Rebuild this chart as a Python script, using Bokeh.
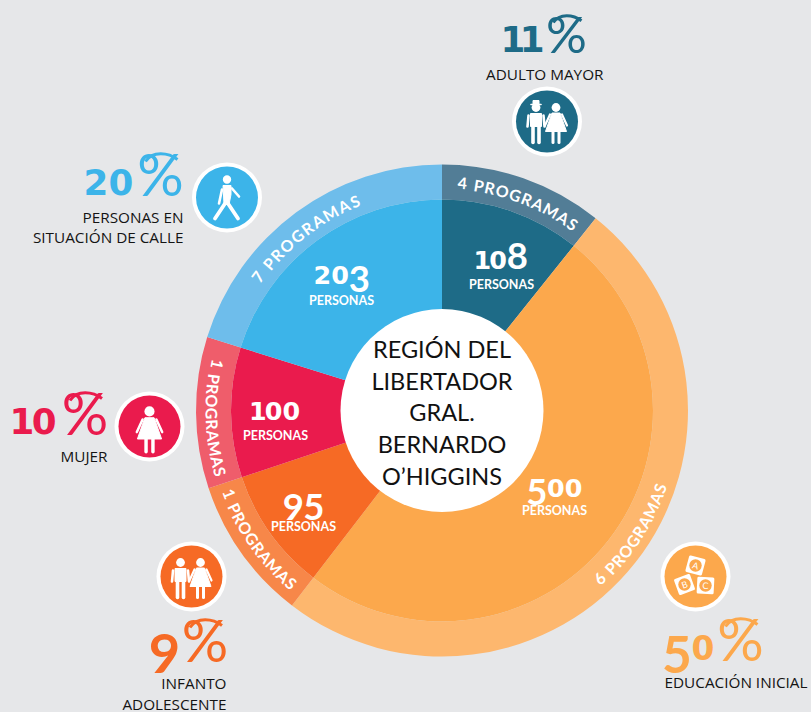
import numpy as np
from bokeh.plotting import figure
from bokeh.models import ColumnDataSource
from bokeh.core.properties import value
from bokeh.embed import file_html
from bokeh.resources import INLINE

W, H = 811, 712
BG = "#e6e7e9"
INK = "#141414"

# ---- data, clockwise from the top
categories = ["ADULTO MAYOR", "EDUCACIÓN INICIAL", "INFANTO ADOLESCENTE", "MUJER", "PERSONAS EN SITUACIÓN DE CALLE"]
personas = [108, 500, 95, 100, 203]
programas = [4, 6, 1, 1, 7]
percents = [11, 50, 9, 10, 20]
inner_colors = ["#1e6b87", "#fca84c", "#f66a25", "#ea1b4d", "#3cb4e9"]
outer_colors = ["#527d96", "#fdb76e", "#f78749", "#ef5d6b", "#6ebdeb"]
center_lines = ["REGIÓN DEL", "LIBERTADOR", "GRAL.", "BERNARDO", "O’HIGGINS"]

CX, CY = 441.5, 410
R_HOLE, R_IN, R_OUT = 101.5, 211, 246


def Y(y):
    return H - y


p = figure(width=W, height=H, x_range=(0, W), y_range=(0, H), toolbar_location=None,
           output_backend="svg", min_border=0, outline_line_color=None,
           background_fill_color=BG, border_fill_color=BG)
p.axis.visible = False
p.grid.visible = False

vals = np.array(personas, dtype=float)
cum = np.concatenate([[0], np.cumsum(vals)]) / vals.sum() * 2 * np.pi
src = ColumnDataSource(dict(
    start=np.pi / 2 - cum[:-1], end=np.pi / 2 - cum[1:],
    inner=inner_colors, outer=outer_colors,
    x=[CX] * 5, y=[Y(CY)] * 5))
p.annular_wedge("x", "y", inner_radius=R_IN, outer_radius=R_OUT, start_angle="start", end_angle="end",
                direction="clock", fill_color="outer", line_color=None, source=src)
p.annular_wedge("x", "y", inner_radius=R_HOLE - 2, outer_radius=R_IN, start_angle="start", end_angle="end",
                direction="clock", fill_color="inner", line_color=None, source=src)
p.circle([CX], [Y(CY)], radius=R_HOLE, fill_color="white", line_color=None)


def txt(s, x, y, size, color="white", font="Lato", style="normal", align="center", angle=0.0, baseline="middle"):
    p.text([x], [Y(y)], text=[s], text_font=value(font), text_font_size=f"{size}px", text_font_style=style,
           text_color=color, text_align=align, text_baseline=baseline, angle=angle)


def oldstyle(s, x, base, xh, color="white", tall=None):
    """Old-style figures: 0 1 2 at x-height, 6 8 ascend, 3 4 5 7 9 descend."""
    tall = tall or xh * 1.42
    sizes = []
    for c in s:
        if c in "012":
            f = xh / 0.729
            sizes.append((f, f * (0.54 if c == "1" else 0.70), base - xh / 2, "DejaVu Sans"))
        elif c in "68":
            f = tall / 0.72
            sizes.append((f, f * 0.56, base - tall / 2, "Lato"))
        else:
            f = tall / 0.72
            sizes.append((f, f * 0.56, base - xh + tall / 2, "Lato"))
    total = sum(a[1] for a in sizes)
    left = x - total / 2
    for c, (f, adv, yc, font) in zip(s, sizes):
        txt(c, left + adv / 2, yc, round(f, 1), color=color, font=font, style="bold")
        left += adv


# centre text
for line, y in zip(center_lines, [348, 380, 411, 443, 475]):
    txt(line, CX, y, 23.5, color="#111111", font="Lato")

# values inside the wedges: centre x, digit baseline, caption y
val_pos = [(501, 269, 284), (554, 497, 510), (303, 512, 526), (275, 420, 435), (341, 284, 300)]
for v, (x, y1, y2) in zip(personas, val_pos):
    oldstyle(str(v), x, y1, 18.5)
    txt("PERSONAS", x, y2, 12.5, style="bold")

# curved ring labels: (start angle, end angle, radius), degrees clockwise from top
ADV = {" ": .32, "P": .6, "R": .63, "O": .78, "G": .72, "A": .7, "M": .88, "S": .55}
ring_pos = [(3.8, 36.3, 228), (138, 108.5, 231), (249.8, 220, 229), (282.8, 253.5, 230), (-55.4, -21.3, 227)]
for n, (a0, a1, r) in zip(programas, ring_pos):
    s = f"{n} PROGRAMAS"
    w = np.array([ADV.get(c, .58) for c in s])
    mid = (np.cumsum(w) - w / 2) / w.sum()
    for c, m in zip(s, mid):
        if c == " ":
            continue
        th = np.radians(a0 + (a1 - a0) * m)
        x = CX + r * np.sin(th)
        y = CY - r * np.cos(th)
        ang = -th if a1 > a0 else np.pi - th
        txt(c, x, y, 16, style="bold", angle=float(ang))


# icons
def limb(xs, ys, width, color="white"):
    p.line(xs, [Y(v) for v in ys], line_color=color, line_width=width, line_cap="round", line_join="round")


def poly(xs, ys, color="white"):
    p.patch(xs, [Y(v) for v in ys], fill_color=color, line_color=color, line_width=1, line_join="round")


def disc(x, y, r, color):
    p.circle([x], [Y(y)], radius=r, fill_color=color, line_color=None)


def man(cx, cy, s=1.0, hat=False):
    disc(cx, cy - 14 * s, 4.4 * s, "white")
    if hat:
        limb([cx - 5 * s, cx + 5 * s], [cy - 17 * s, cy - 17 * s], 1.6)
        poly([cx - 3 * s, cx + 3 * s, cx + 3 * s, cx - 3 * s], [cy - 21 * s, cy - 21 * s, cy - 17 * s, cy - 17 * s])
    poly([cx - 5.5 * s, cx + 5.5 * s, cx + 5.5 * s, cx - 5.5 * s], [cy - 8 * s, cy - 8 * s, cy + 5 * s, cy + 5 * s])
    limb([cx - 7.5 * s, cx - 8.5 * s], [cy - 6 * s, cy + 5 * s], 2.6 * s)
    limb([cx + 7.5 * s, cx + 8.5 * s], [cy - 6 * s, cy + 5 * s], 2.6 * s)
    limb([cx - 3 * s, cx - 3 * s], [cy + 4 * s, cy + 21 * s], 3.6 * s)
    limb([cx + 3 * s, cx + 3 * s], [cy + 4 * s, cy + 21 * s], 3.6 * s)


def woman(cx, cy, s=1.0):
    disc(cx, cy - 14 * s, 4.4 * s, "white")
    poly([cx - 4 * s, cx + 4 * s, cx + 6 * s, cx + 10.5 * s, cx - 10.5 * s, cx - 6 * s],
         [cy - 8.5 * s, cy - 8.5 * s, cy - 3 * s, cy + 10 * s, cy + 10 * s, cy - 3 * s])
    limb([cx - 6 * s, cx - 11 * s], [cy - 7 * s, cy + 4 * s], 2.2 * s)
    limb([cx + 6 * s, cx + 11 * s], [cy - 7 * s, cy + 4 * s], 2.2 * s)
    limb([cx - 3 * s, cx - 3 * s], [cy + 9 * s, cy + 21 * s], 3 * s)
    limb([cx + 3 * s, cx + 3 * s], [cy + 9 * s, cy + 21 * s], 3 * s)


badges = [(546.5, 121), (695, 576), (191, 576), (149, 426), (226.5, 197)]
for (x, y), c in zip(badges, inner_colors):
    disc(x, y, 35, "white")
    disc(x, y, 31, c)

bx, by = badges[0]
man(bx - 11, by, hat=True)
woman(bx + 9, by)

bx, by = badges[2]
man(bx - 11, by)
woman(bx + 9, by)

bx, by = badges[3]
woman(bx, by + 1, s=1.15)

bx, by = badges[4]
disc(bx, by - 18, 4.2, "white")
poly([bx - 4, bx + 4, bx + 4, bx + 2, bx - 3], [by - 12, by - 12, by - 3, by + 7, by + 7])
limb([bx + 5, bx + 12], [by - 9, by - 1], 2.6)
limb([bx - 5, bx - 8], [by - 8, by + 6], 2.6)
limb([bx - 2, bx - 12], [by + 6, by + 21], 3.8)
limb([bx + 1, bx + 11], [by + 6, by + 21], 3.8)

bx, by = badges[1]
for ch, dx, dy, rot in [("A", 0, -11, -15), ("B", -11, 8, 20), ("C", 10, 9, -3)]:
    p.rect([bx + dx], [Y(by + dy)], width=14, height=14, angle=np.radians(rot), fill_color="white",
           line_color="white", line_width=3, line_join="round")
    disc(bx + dx, by + dy, 6.2, inner_colors[1])
    txt(ch, bx + dx, by + dy, 9, angle=float(np.radians(rot)))

# big percentages: digits centre x, digit baseline, x-height, tall height, % centre x, % baseline, % size
pct_pos = [(522, 51, 26, 37, 566, 51, 51), (688, 659, 24, 37, 740, 659, 58), (164, 660, 27, 39, 204.5, 660, 58),
           (34, 433, 26, 37, 84.5, 433, 58), (108, 194, 26, 37, 160, 194, 58)]
for v, c, (dx, dy, xh, tall, px, py, ps) in zip(percents, inner_colors, pct_pos):
    oldstyle(str(v), dx, dy, xh, color=c, tall=tall)
    txt("%", px, py - 0.36 * ps, ps, color=c, font="Lato")
    # the swash that closes the top of the percent sign
    k = ps / 58
    p.bezier([px + 17 * k], [Y(py - 35 * k)], [px - 15 * k], [Y(py - 33 * k)],
             [px + 8 * k], [Y(py - 42 * k)], [px - 8 * k], [Y(py - 44 * k)],
             line_color=c, line_width=3)

# captions
captions = [
    (["ADULTO MAYOR"], 603, [73]),
    (["EDUCACIÓN INICIAL"], 807, [681]),
    (["INFANTO", "ADOLESCENTE"], 226, [682, 703]),
    (["MUJER"], 107, [455]),
    (["PERSONAS EN", "SITUACIÓN DE CALLE"], 183, [216, 236]),
]
for lines, x, ys in captions:
    for line, y in zip(lines, ys):
        txt(line, x, y, 15.3, color=INK, font="Open Sans", align="right")

template = """{% block preamble %}<style>html,body{margin:0;padding:0;background:#e6e7e9;overflow:hidden;}</style>{% endblock %}"""
open("out.html", "w").write(file_html(p, INLINE, template=template))
